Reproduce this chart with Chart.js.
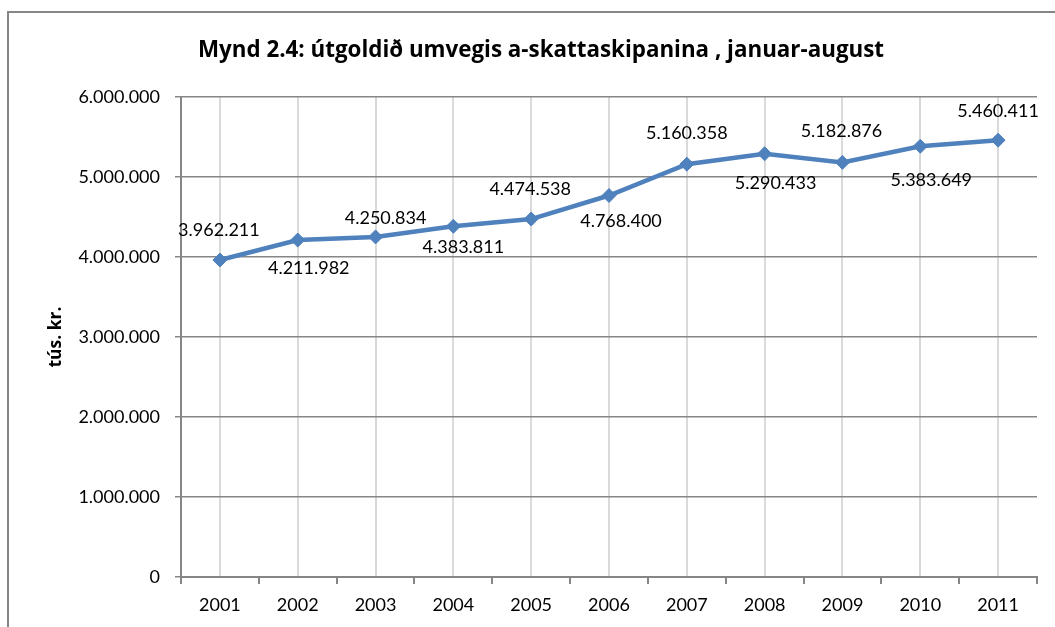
<!DOCTYPE html>
<html>
<head>
<meta charset="utf-8">
<script src="https://cdn.jsdelivr.net/npm/chart.js@4.4.1/dist/chart.umd.min.js"></script>
<style>
  html, body { margin: 0; padding: 0; background: #fff; }
  #wrap { width: 1055px; height: 627px; position: relative; }
</style>
</head>
<body>
<div id="wrap"><canvas id="c" width="1055" height="627"></canvas></div>
<script>
const titleText = 'Mynd 2.4: útgoldið umvegis a-skattaskipanina , januar-august';
const yAxisTitle = 'tús. kr.';
const years = ['2001','2002','2003','2004','2005','2006','2007','2008','2009','2010','2011'];
const expenses = [3962211, 4211982, 4250834, 4383811, 4474538, 4768400, 5160358, 5290433, 5182876, 5383649, 5460411];
const yTicks = [0, 1000000, 2000000, 3000000, 4000000, 5000000, 6000000];

const FONT = 'Lato, "Open Sans", sans-serif';
const TITLE_FONT = '"Open Sans", Lato, sans-serif';
const GRAY = '#868686';
const BLUE = '#4f81bd';

function fmt(v) {
  return String(Math.round(v)).replace(/\B(?=(\d{3})+(?!\d))/g, '.');
}

function fitFont(ctx, text, weight, family, base, target) {
  ctx.font = weight + ' ' + base + 'px ' + family;
  const w = ctx.measureText(text).width;
  const size = base * target / w;
  return weight + ' ' + size.toFixed(2) + 'px ' + family;
}

// label placement relative to each point (style, not data)
const labelOffsets = [[-1,-30],[11,28],[10,-19],[10,21],[-1,-30],[12,26],[0,-31],[11,29],[-1,-31],[11,34],[0,-29]];

const framePlugin = {
  id: 'frame',
  beforeDraw(chart) {
    const ctx = chart.ctx;
    ctx.save();
    ctx.strokeStyle = GRAY;
    ctx.lineWidth = 2;
    ctx.beginPath();
    ctx.moveTo(8, 627);
    ctx.lineTo(8, 12);
    ctx.lineTo(1055, 12);
    ctx.stroke();
    // title
    ctx.fillStyle = '#000';
    ctx.font = fitFont(ctx, titleText, 'bold', TITLE_FONT, 20, 686);
    ctx.textAlign = 'center';
    ctx.textBaseline = 'alphabetic';
    ctx.fillText(titleText, 541, 57);
    // y axis title
    ctx.font = fitFont(ctx, yAxisTitle, 'bold', TITLE_FONT, 16, 61);
    ctx.translate(56, 337);
    ctx.rotate(-Math.PI / 2);
    ctx.textBaseline = 'middle';
    ctx.fillText(yAxisTitle, 0, 0);
    ctx.restore();
  },
  afterDraw(chart) {
    const ctx = chart.ctx;
    const xs = chart.scales.x;
    const n = xs.ticks.length;
    const step = (xs.right - xs.left) / n;
    ctx.save();
    ctx.strokeStyle = GRAY;
    ctx.lineWidth = 2;
    ctx.beginPath();
    for (let i = 0; i <= n; i++) {
      const x = Math.round(xs.left + i * step);
      ctx.moveTo(x, xs.top);
      ctx.lineTo(x, xs.top + 7);
    }
    ctx.stroke();
    ctx.restore();
  }
};

const labelPlugin = {
  id: 'valueLabels',
  afterDatasetsDraw(chart) {
    const ctx = chart.ctx;
    const meta = chart.getDatasetMeta(0);
    ctx.save();
    ctx.fillStyle = '#000';
    ctx.font = '18px ' + FONT;
    ctx.textAlign = 'center';
    ctx.textBaseline = 'middle';
    meta.data.forEach((pt, i) => {
      const off = labelOffsets[i] || [0, -30];
      ctx.fillText(fmt(expenses[i]), pt.x + off[0], pt.y + off[1]);
    });
    ctx.restore();
  }
};

new Chart(document.getElementById('c'), {
  type: 'line',
  data: {
    labels: years,
    datasets: [{
      data: expenses,
      borderColor: BLUE,
      backgroundColor: BLUE,
      borderWidth: 4.5,
      tension: 0,
      pointStyle: 'rectRot',
      pointRadius: 7,
      pointBackgroundColor: BLUE,
      pointBorderColor: BLUE,
      pointBorderWidth: 1
    }]
  },
  options: {
    responsive: false,
    animation: false,
    devicePixelRatio: 1,
    layout: { padding: { top: 97, right: 18, bottom: 0, left: 0 } },
    plugins: {
      legend: { display: false },
      title: { display: false },
      tooltip: { enabled: false }
    },
    scales: {
      x: {
        type: 'category',
        offset: true,
        grid: { color: '#d9d9d9', lineWidth: 2, drawTicks: false, offset: false },
        border: { color: GRAY, width: 2 },
        ticks: { color: '#000', font: { family: FONT, size: 18 }, padding: 17, maxRotation: 0 },
        afterFit(s) { s.height = 50; }
      },
      y: {
        min: 0,
        max: 6000000,
        afterBuildTicks(s) { s.ticks = yTicks.map(v => ({ value: v })); },
        grid: { color: GRAY, lineWidth: 1.5, tickLength: 6, drawTicks: true },
        border: { color: GRAY, width: 2 },
        ticks: {
          color: '#000',
          font: { family: FONT, size: 18 },
          padding: 15,
          callback: v => fmt(v)
        },
        afterFit(s) { s.width = 181; }
      }
    }
  },
  plugins: [framePlugin, labelPlugin]
});
</script>
</body>
</html>
